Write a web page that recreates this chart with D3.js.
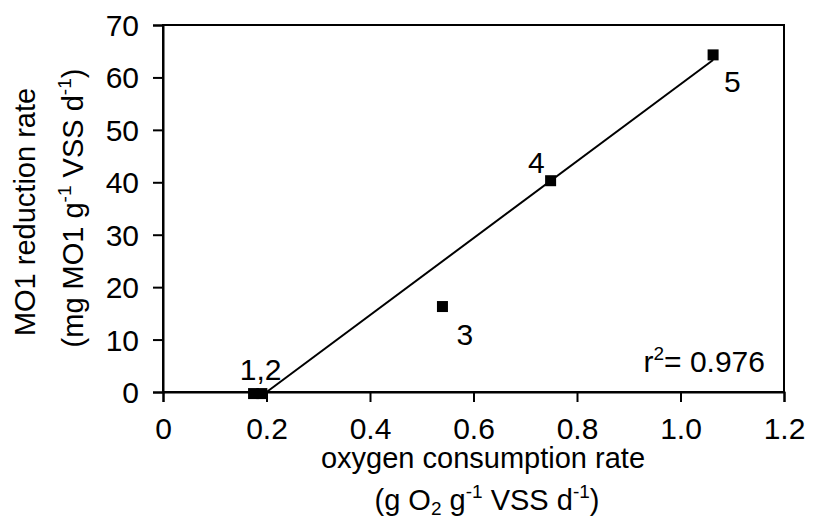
<!DOCTYPE html>
<html>
<head>
<meta charset="utf-8">
<script src="https://cdn.jsdelivr.net/npm/d3@7"></script>
<style>
  body { margin: 0; background: #fff; }
  svg text { font-family: "Liberation Sans", Arial, sans-serif; fill: #000; }
</style>
</head>
<body>
<svg id="chart"></svg>
<script>
(function (d3) {
  'use strict'
  // data
  const xValues = [0.175, 0.191, 0.540, 0.749, 1.063]
  const yValues = [-0.3, -0.3, 16.3, 40.3, 64.3]
  const pointLabels = ['', '1,2', '3', '4', '5']
  const xTicks = [0, 0.2, 0.4, 0.6, 0.8, 1.0, 1.2]
  const yTicks = [0, 10, 20, 30, 40, 50, 60, 70]
  // trend line
  const trendSlope = 73.4
  const trendIntercept = -14.7
  const r2Text = '0.976'

  const W = 817
  const H = 521
  const FS = 30
  const TFS = 29

  const svg = d3.select('#chart').attr('width', W).attr('height', H)

  const x = d3.scaleLinear().domain([0, 1.2]).range([163, 784])
  const y = d3.scaleLinear().domain([0, 70]).range([392, 25])

  // frame
  svg.append('rect')
    .attr('x', x(0)).attr('y', y(70))
    .attr('width', x(1.2) - x(0)).attr('height', y(0) - y(70))
    .attr('fill', 'none').attr('stroke', '#000').attr('stroke-width', 2)

  // axes
  const xAxis = svg.append('g')
    .attr('transform', `translate(0,${y(0)})`)
    .call(d3.axisBottom(x).tickValues(xTicks).tickSize(10).tickPadding(16)
      .tickFormat(d => d === 0 ? '0' : d3.format('.1f')(d)))
  const yAxis = svg.append('g')
    .attr('transform', `translate(${x(0)},0)`)
    .call(d3.axisLeft(y).tickValues(yTicks).tickSize(10).tickPadding(14))
  ;[xAxis, yAxis].forEach(a => {
    a.select('.domain').attr('stroke-width', 2)
    a.selectAll('.tick line').attr('stroke-width', 2)
    a.selectAll('text').style('font-size', FS + 'px').attr('fill', '#000')
  })
  xAxis.selectAll('text').attr('dy', '0.7em')
  yAxis.selectAll('text').attr('dy', '0.35em')

  // trend line, clipped at y = 0
  const x0 = -trendIntercept / trendSlope
  const x1 = d3.max(xValues)
  svg.append('line')
    .attr('x1', x(x0)).attr('y1', y(trendSlope * x0 + trendIntercept))
    .attr('x2', x(x1)).attr('y2', y(trendSlope * x1 + trendIntercept))
    .attr('stroke', '#000').attr('stroke-width', 2)

  // points
  const pts = xValues.map((v, i) => ({ x: v, y: yValues[i], label: pointLabels[i] }))
  const S = 11
  svg.selectAll('rect.pt').data(pts).enter().append('rect')
    .attr('class', 'pt')
    .attr('x', d => x(d.x) - S / 2).attr('y', d => y(d.y) - S / 2)
    .attr('width', S).attr('height', S).attr('fill', '#000')

  // point labels
  const labelOffsets = [[0, 0, 'start'], [-22, -14, 'start'], [14, 38, 'start'], [-6, -8, 'end'], [11, 37, 'start']]
  svg.selectAll('text.pl').data(pts).enter().append('text')
    .attr('class', 'pl')
    .attr('x', (d, i) => x(d.x) + labelOffsets[i][0])
    .attr('y', (d, i) => y(d.y) + labelOffsets[i][1])
    .attr('text-anchor', (d, i) => labelOffsets[i][2])
    .style('font-size', FS + 'px')
    .text(d => d.label)

  // r squared
  const r2 = svg.append('text')
    .attr('x', 765).attr('y', 372).attr('text-anchor', 'end')
    .style('font-size', FS + 'px')
  r2.append('tspan').text('r')
  r2.append('tspan').attr('dy', -12).style('font-size', '19px').text('2')
  r2.append('tspan').attr('dy', 12).text('= ' + r2Text)

  // x axis title
  svg.append('text')
    .attr('x', 483).attr('y', 468).attr('text-anchor', 'middle')
    .style('font-size', TFS + 'px')
    .text('oxygen consumption rate')
  const xt = svg.append('text')
    .attr('x', 487).attr('y', 510).attr('text-anchor', 'middle')
    .style('font-size', TFS + 'px')
  xt.append('tspan').text('(g O')
  xt.append('tspan').attr('dy', 5).style('font-size', '19px').text('2')
  xt.append('tspan').attr('dy', -5).text(' g')
  xt.append('tspan').attr('dy', -12).style('font-size', '19px').text('-1')
  xt.append('tspan').attr('dy', 12).text(' VSS d')
  xt.append('tspan').attr('dy', -12).style('font-size', '19px').text('-1')
  xt.append('tspan').attr('dy', 12).text(')')

  // y axis title
  svg.append('text')
    .attr('transform', 'translate(35,212) rotate(-90)')
    .attr('text-anchor', 'middle')
    .style('font-size', TFS + 'px')
    .text('MO1 reduction rate')
  const yt = svg.append('text')
    .attr('transform', 'translate(83,208) rotate(-90)')
    .attr('text-anchor', 'middle')
    .style('font-size', TFS + 'px')
  yt.append('tspan').text('(mg MO1 g')
  yt.append('tspan').attr('dy', -12).style('font-size', '19px').text('-1')
  yt.append('tspan').attr('dy', 12).text(' VSS d')
  yt.append('tspan').attr('dy', -12).style('font-size', '19px').text('-1')
  yt.append('tspan').attr('dy', 12).text(')')
}(d3))
</script>
</body>
</html>
